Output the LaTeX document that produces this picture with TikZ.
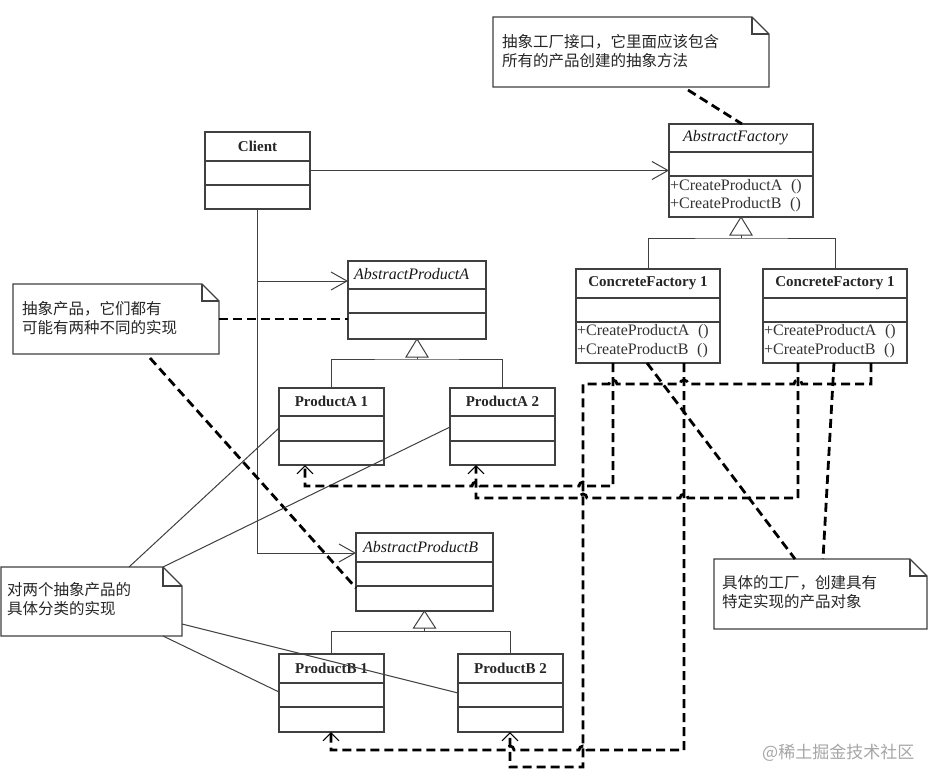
\documentclass[tikz,border=0pt]{standalone}
\usepackage{fontspec}
\setmainfont{Liberation Serif}
\newfontfamily\cjk{Noto Sans CJK SC}
\usetikzlibrary{arrows.meta,calc}
\tikzset{
  boxline/.style={draw=black!75, line width=1.2pt},
  clsbox/.style={boxline, rectangle, inner sep=0pt, outer sep=0pt, fill=white},
  notebox/.style={rectangle, inner sep=0pt, outer sep=0pt},
  thinline/.style={draw=black!75, line width=1pt},
  assoc/.style={thinline, -{Straight Barb[length=16pt,width=18pt,line width=1pt]}},
  dep/.style={draw=black, line width=2.8pt, dash pattern=on 9pt off 5pt},
  deparrow/.style={dep, -{Straight Barb[length=8pt,width=16pt,line width=1.1pt]}},
  gentri/.style={thinline, fill=white},
  cname/.style={font=\fontsize{15}{18}\selectfont\bfseries, inner sep=0pt, text=black!85},
  aname/.style={font=\fontsize{16}{18}\selectfont\itshape, inner sep=0pt, anchor=west, text=black!90},
  meth/.style={font=\fontsize{16}{19}\selectfont, inner sep=0pt, anchor=west, text=black!80},
  notetext/.style={font=\cjk\fontsize{15.5}{19}\selectfont, inner sep=0pt, anchor=north west, align=left, text=black!85},
}
\newcommand\myclass[7]{%
  \node[clsbox, minimum width={(#4-#2)*1pt}, minimum height={(#5-#3)*1pt}, anchor=north west] (#1) at (#2,#3) {};
  \draw[boxline] (#1.west |- 0,#6) -- (#1.east |- 0,#6);
  \draw[boxline] (#1.west |- 0,#7) -- (#1.east |- 0,#7);
}
\newcommand\mynote[6]{%
  \node[notebox, minimum width={(#4-#2)*1pt}, minimum height={(#5-#3)*1pt}, anchor=north west] (#1) at (#2,#3) {};
  \draw[boxline, fill=white] (#1.north west) -- ($(#1.north east)+(-#6,0)$) -- ($(#1.north east)+(0,#6)$) -- (#1.south east) -- (#1.south west) -- cycle;
  \draw[boxline] ($(#1.north east)+(-#6,0)$) -- ($(#1.north east)+(-#6,#6)$) -- ($(#1.north east)+(0,#6)$);
}
\newcommand\mA{+CreateProductA\hspace{0.55em}()}
\newcommand\mB{+CreateProductB\hspace{0.55em}()}
\begin{document}
\begin{tikzpicture}[x=1pt,y=-1pt]
\useasboundingbox[fill=white] (0,0) rectangle (928,769);

% ---------- classes ----------
\myclass{client}{205}{132}{310}{209}{161}{185}
\myclass{af}{669}{124}{813}{217}{152}{176}
\myclass{apa}{348}{261}{486}{339}{289}{313}
\myclass{apb}{356}{533}{493}{611}{562}{586}
\myclass{cf1}{576}{269}{720}{363}{298}{322}
\myclass{cf2}{763}{269}{907}{363}{298}{322}
\myclass{pa1}{279}{388}{384}{465}{416}{441}
\myclass{pa2}{450}{388}{555}{465}{416}{441}
\myclass{pb1}{279}{654}{384}{732}{683}{707}
\myclass{pb2}{458}{654}{563}{732}{683}{707}

\node[cname] (clientlbl) at ($(client.north)+(0,14)$) {Client};
\node[aname] (aflbl) at ($(af.north west)+(14,14)$) {AbstractFactory};
\node[meth] (afm1) at ($(af.north west)+(1,63)$) {\mA};
\node[meth] (afm2) at ($(af.north west)+(1,81)$) {\mB};
\node[aname] (apalbl) at ($(apa.north west)+(6,13)$) {AbstractProductA};
\node[aname] (apblbl) at ($(apb.north west)+(7,14)$) {AbstractProductB};
\node[cname] (cf1lbl) at ($(cf1.north)+(0,14)$) {ConcreteFactory 1};
\node[meth] (cf1m1) at ($(cf1.north west)+(1,63)$) {\mA};
\node[meth] (cf1m2) at ($(cf1.north west)+(1,82)$) {\mB};
\node[cname] (cf2lbl) at ($(cf2.north)+(0,14)$) {ConcreteFactory 1};
\node[meth] (cf2m1) at ($(cf2.north west)+(1,63)$) {\mA};
\node[meth] (cf2m2) at ($(cf2.north west)+(1,82)$) {\mB};
\node[cname] (pa1lbl) at ($(pa1.north)+(0,13)$) {ProductA 1};
\node[cname] (pa2lbl) at ($(pa2.north)+(0,13)$) {ProductA 2};
\node[cname] (pb1lbl) at ($(pb1.north)+(0,14)$) {ProductB 1};
\node[cname] (pb2lbl) at ($(pb2.north)+(0,14)$) {ProductB 2};

% ---------- notes ----------
\mynote{n1}{493}{17}{769}{87}{17}
\mynote{n2}{13}{284}{219}{354}{17}
\mynote{n3}{1}{567}{182}{636}{19}
\mynote{n4}{714}{559}{927}{629}{17}
\node[notetext] (n1t) at ($(n1.north west)+(9,17)$) {抽象工厂接口，它里面应该包含\\所有的产品创建的抽象方法};
\node[notetext] (n2t) at ($(n2.north west)+(9,17)$) {抽象产品，它们都有\\可能有两种不同的实现};
\node[notetext] (n3t) at ($(n3.north west)+(6,15)$) {对两个抽象产品的\\具体分类的实现};
\node[notetext] (n4t) at ($(n4.north west)+(8,16)$) {具体的工厂，创建具有\\特定实现的产品对象};

% ---------- generalizations ----------
\draw[gentri] (af.south) -- ++(11,18) -- ++(-22,0) -- cycle;
\draw[thinline] ($(af.south)+(0,18)$) -- ($(af.south)+(0,21)$) coordinate (afbar);
\draw[thinline] (cf1.north) |- (afbar) -| (cf2.north);
\draw[gentri] (apa.south) -- ++(11,18) -- ++(-22,0) -- cycle;
\draw[thinline] ($(apa.south)+(0,18)$) -- ($(apa.south)+(0,20)$) coordinate (apabar);
\draw[thinline] (pa1.north) |- (apabar) -| (pa2.north);
\draw[gentri] (apb.south) -- ++(11,17) -- ++(-22,0) -- cycle;
\draw[thinline] ($(apb.south)+(0,17)$) -- ($(apb.south)+(0,20)$) coordinate (apbbar);
\draw[thinline] (pb1.north) |- (apbbar) -| (pb2.north);

% ---------- associations ----------
\draw[assoc] (client.east) -- (af.west |- client.east);
\coordinate (apain) at ($(apa.north west)+(0,20)$);
\coordinate (apbin) at ($(apb.north west)+(0,20)$);
\draw[assoc] (client.south) |- (apbin);
\draw[assoc] (client.south |- apain) -- (apain);

% ---------- note links ----------
\draw[dep] ($(n1.south west)+(195,3)$) -- ($(af.north)+(1,0)$);
\draw[dep] (n2.east) -- (apa.west |- n2.east);
\draw[dep] ($(n2.south west)+(137,4)$) -- ($(apb.north west)+(0,55)$);
\draw[dep] ($(cf1.south west)+(71,0)$) -- ($(n4.north west)+(81,0)$);
\draw[dep] ($(cf2.south west)+(71,0)$) -- ($(n4.north west)+(109,0)$);
\draw[thinline] ($(n3.north west)+(128,0)$) -- ($(pa1.north west)+(0,40)$);
\draw[thinline] ($(n3.north east)+(-19,0)$) -- ($(pa2.north west)+(0,39)$);
\draw[thinline] ($(n3.north east)+(0,57)$) -- ($(pb2.north west)+(0,39)$);
\draw[thinline] ($(n3.south east)+(-19,0)$) -- ($(pb1.north west)+(0,38)$);

% ---------- dependencies (factory creates product) ----------
\coordinate (cf1a) at ($(cf1.south west)+(37,0)$);
\coordinate (cf1b) at ($(cf1.south west)+(108,0)$);
\coordinate (cf2a) at ($(cf2.south west)+(35,0)$);
\coordinate (cf2b) at ($(cf2.south west)+(108,0)$);
\coordinate (pa1in) at ($(pa1.south west)+(26,0)$);
\coordinate (pa2in) at ($(pa2.south west)+(26,0)$);
\coordinate (pb1in) at ($(pb1.south west)+(52,0)$);
\coordinate (pb2in) at ($(pb2.south west)+(52,0)$);

\draw[deparrow] (cf1a) -- (613,486) -- (587,486) arc[start angle=0,end angle=180,radius=4pt]
  -- (480,486) arc[start angle=0,end angle=180,radius=4pt] -- (305,486) -- (pa1in);
\draw[deparrow] (cf2a) -- (798,498) -- (688,498) arc[start angle=0,end angle=180,radius=4pt]
  -- (587,498) arc[start angle=0,end angle=180,radius=4pt] -- (476,498) -- (pa2in);
\draw[deparrow] (cf1b) -- (684,750) -- (587,750) arc[start angle=0,end angle=180,radius=4pt]
  -- (514,750) arc[start angle=0,end angle=180,radius=4pt] -- (331,750) -- (pb1in);
\draw[deparrow] (cf2b) -- (871,384) -- (802,384) arc[start angle=0,end angle=180,radius=4pt]
  -- (688,384) arc[start angle=0,end angle=180,radius=4pt]
  -- (617,384) arc[start angle=0,end angle=180,radius=4pt]
  -- (583,384) -- (583,767) -- (510,767) -- (pb2in);

% ---------- watermark ----------
\node[font=\cjk\fontsize{17}{20}\selectfont, text=black!35, anchor=west, inner sep=0pt] (wm) at (762,753) {@稀土掘金技术社区};
\end{tikzpicture}
\end{document}
